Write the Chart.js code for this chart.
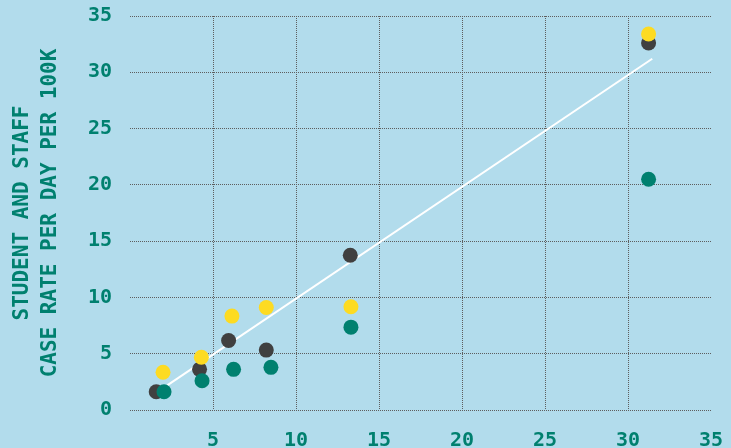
<!DOCTYPE html>
<html lang="en">
<head>
  <meta charset="UTF-8" />
  <title>Case rate scatter</title>
  <script src="https://cdn.jsdelivr.net/npm/chart.js"></script>
  <style>
    body { margin: 0; background-color: #b2dcec; }
    #wrap { width: 731px; height: 448px; }
  </style>
</head>
<body>
<div id="wrap"><canvas id="chart" width="731" height="448"></canvas></div>

<script>
  // values
  const grayX   = [1.58, 4.19, 5.94, 8.21, 13.27, 31.24];
  const grayY   = [1.62, 3.61, 6.18, 5.32, 13.75, 32.6];
  const yellowX = [1.99, 4.30, 6.14, 8.21, 13.31, 31.24];
  const yellowY = [3.35, 4.68, 8.34, 9.11, 9.17, 33.4];
  const tealX   = [2.05, 4.34, 6.24, 8.49, 13.31, 31.24];
  const tealY   = [1.62, 2.60, 3.61, 3.79, 7.36, 20.5];
  const fitX    = [2.13, 31.46];
  const fitY    = [2.07, 31.2];
  const yTitle  = ['STUDENT AND STAFF', 'CASE RATE PER DAY PER 100K'];

  const TEAL = '#00806f';
  const GRID = '#5e5e5e';
  const pts = (xs, ys) => xs.map((x, i) => ({ x: x, y: ys[i] }));
  const font = { family: 'DejaVu Sans Mono', size: 20, weight: 'bold' };

  new Chart(document.getElementById('chart'), {
    type: 'scatter',
    data: {
      datasets: [
        { data: pts(tealX, tealY), backgroundColor: TEAL, pointRadius: 7.5, borderWidth: 0, order: 1 },
        { data: pts(yellowX, yellowY), backgroundColor: '#fddb22', pointRadius: 7.5, borderWidth: 0, order: 2 },
        { data: pts(grayX, grayY), backgroundColor: '#404040', pointRadius: 7.5, borderWidth: 0, order: 3 },
        { type: 'line', data: pts(fitX, fitY), borderColor: '#ffffff', borderWidth: 2, pointRadius: 0, showLine: true, fill: false, order: 4 }
      ]
    },
    options: {
      responsive: false,
      animation: false,
      events: [],
      layout: { padding: { left: 0, right: 20, top: 16, bottom: 0 } },
      plugins: { legend: { display: false }, tooltip: { enabled: false } },
      scales: {
        x: {
          type: 'linear', min: 0, max: 35,
          afterFit: s => { s.height = 38; s.paddingLeft = 0; s.paddingRight = 0; },
          ticks: {
            stepSize: 5, color: TEAL, font: font, padding: 19, maxRotation: 0,
            callback: v => v === 0 ? '' : v
          },
          grid: {
            drawTicks: false, lineWidth: 1,
            color: c => (c.tick && (c.tick.value === 0 || c.tick.value === 35)) ? 'rgba(0,0,0,0)' : GRID
          },
          border: { display: false, dash: [1, 1] }
        },
        y: {
          type: 'linear', min: 0, max: 35,
          afterFit: s => { s.width = 130; s.paddingTop = 0; s.paddingBottom = 0; },
          ticks: { stepSize: 5, color: TEAL, font: font, padding: 18 },
          grid: { drawTicks: false, lineWidth: 1, color: GRID },
          border: { display: false, dash: [1, 1] },
          title: {
            display: true, text: yTitle, color: TEAL,
            font: { family: 'DejaVu Sans Mono', size: 21, weight: 'bold', lineHeight: 1.35 },
            padding: { top: 8, bottom: 0 }
          }
        }
      }
    }
  });
</script>
</body>
</html>
